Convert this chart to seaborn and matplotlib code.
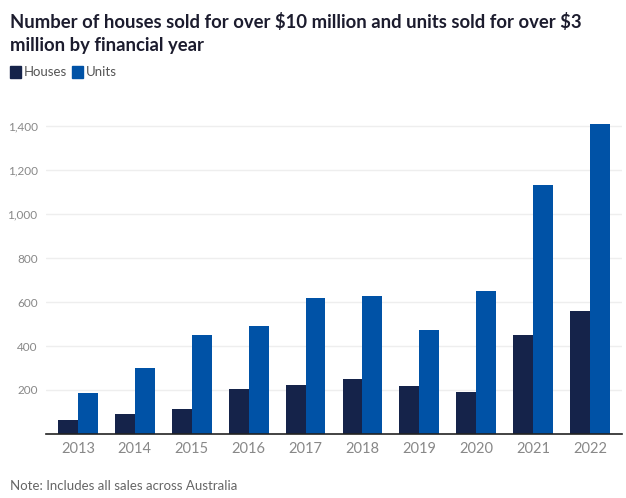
import matplotlib.pyplot as plt
import seaborn as sns
import pandas as pd
import numpy as np

years = ['2013', '2014', '2015', '2016', '2017', '2018', '2019', '2020', '2021', '2022']
houses = [64, 91, 114, 205, 223, 250, 220, 190, 449, 558]
units = [186, 300, 450, 491, 618, 627, 471, 649, 1130, 1408]
yticks = [200, 400, 600, 800, 1000, 1200, 1400]

df = pd.DataFrame({'year': years * 2,
                   'value': houses + units,
                   'type': ['Houses'] * len(years) + ['Units'] * len(years)})

sns.set_style('white')
plt.rcParams['font.family'] = ['Lato', 'DejaVu Sans']

colors = {'Houses': '#15234a', 'Units': '#0052a6'}

fig = plt.figure(figsize=(6.26, 4.98), dpi=100)
ax = fig.add_axes([46/626, 1 - 434/498, 576/626, (434 - 115)/498])

sns.barplot(data=df, x='year', y='value', hue='type', palette=colors,
            width=0.7, gap=0, saturation=1, linewidth=0, ax=ax, legend=False)

ax.set_xlim(-0.56, 9.56)
ax.set_ylim(0, 1450)
ax.set_yticks(yticks)
ax.set_yticklabels(['{:,}'.format(v) for v in yticks])
ax.grid(axis='y', color='#eeeeee', linewidth=1)
ax.set_axisbelow(True)
for s in ['top', 'right', 'left']:
    ax.spines[s].set_visible(False)
ax.spines['bottom'].set_color('#222222')
ax.spines['bottom'].set_linewidth(1.2)
ax.tick_params(axis='y', length=0, labelsize=8.5, colors='#888888', pad=6)
ax.tick_params(axis='x', length=0, labelsize=10.5, colors='#888888', pad=6)
ax.set_xlabel('')
ax.set_ylabel('')

fig.text(10/626, 1 - 22/498, r'Number of houses sold for over \$10 million and units sold for over \$3',
         fontsize=13.3, fontweight='bold', color='#1c1c2e', va='center')
fig.text(10/626, 1 - 45/498, 'million by financial year',
         fontsize=13.3, fontweight='bold', color='#1c1c2e', va='center')

# legend squares
fig.patches.append(plt.Rectangle((10/626, 1 - 78/498), 11/626, 12/498,
                                 transform=fig.transFigure, color=colors['Houses']))
fig.text(24/626, 1 - 72/498, 'Houses', fontsize=9.5, color='#555555', va='center')
fig.patches.append(plt.Rectangle((72/626, 1 - 78/498), 11/626, 12/498,
                                 transform=fig.transFigure, color=colors['Units']))
fig.text(86/626, 1 - 72/498, 'Units', fontsize=9.5, color='#555555', va='center')

fig.text(10/626, 1 - 486/498, 'Note: Includes all sales across Australia',
         fontsize=9.5, color='#666666', va='center')

plt.savefig('out.png', dpi=100)
